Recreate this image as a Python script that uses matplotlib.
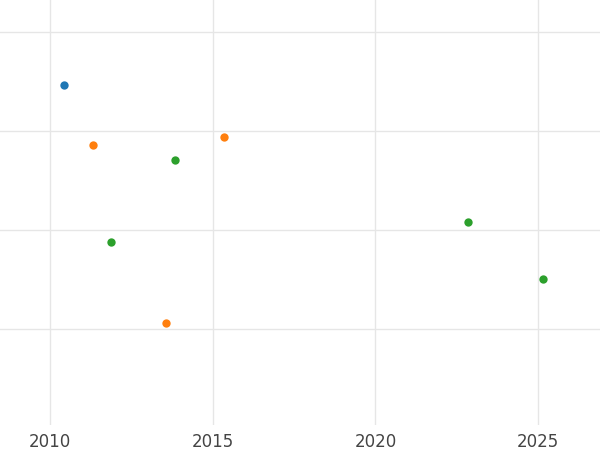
import matplotlib
matplotlib.use("Agg")
import matplotlib.pyplot as plt

blue_x = [2010.43]
blue_y = [3.46]
orange_x = [2011.32, 2015.35, 2013.57]
orange_y = [2.86, 2.94, 1.06]
green_x = [2013.85, 2011.88, 2022.83, 2025.14]
green_y = [2.70, 1.88, 2.08, 1.50]
xticks = [2010, 2015, 2020, 2025]
yticks = [1, 2, 3, 4]

fig = plt.figure(figsize=(6, 4.5), dpi=100)
ax = fig.add_axes([0, 25 / 450, 1, 425 / 450])

ax.scatter(blue_x, blue_y, color="#1f77b4", s=36, zorder=3, linewidths=0)
ax.scatter(orange_x, orange_y, color="#ff7f0e", s=36, zorder=3, linewidths=0)
ax.scatter(green_x, green_y, color="#2ca02c", s=36, zorder=3, linewidths=0)

ax.set_xlim(2008.46, 2026.9)
ax.set_ylim(0.03, 4.32)
ax.set_xticks(xticks)
ax.set_yticks(yticks)
ax.set_yticklabels([])
ax.grid(True, color="#e6e6e6", linewidth=1)
ax.tick_params(length=0, labelsize=12, labelcolor="#444444", pad=6)
for s in ax.spines.values():
    s.set_visible(False)

fig.savefig("out.png", dpi=100)
